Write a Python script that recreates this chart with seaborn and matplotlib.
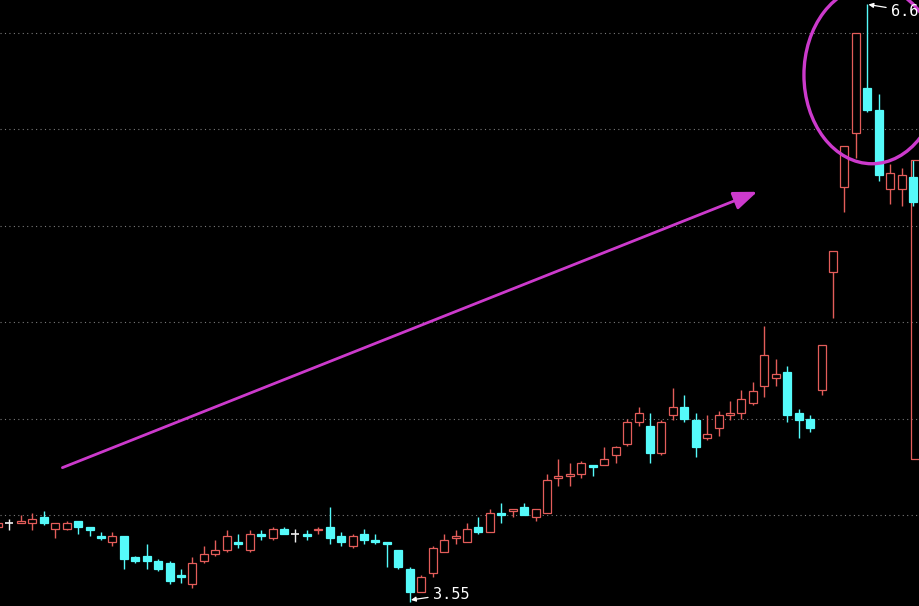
import numpy as np
import seaborn as sns
import matplotlib
matplotlib.use("Agg")
import matplotlib.pyplot as plt
from matplotlib.patches import Ellipse, Rectangle

# daily OHLC (price units)
opens = [3.94, 3.96, 3.96, 3.96, 3.99, 3.93, 3.93, 3.97, 3.94, 3.89,
         3.86, 3.89, 3.78, 3.79, 3.76, 3.75, 3.69, 3.64, 3.76, 3.80,
         3.82, 3.86, 3.82, 3.90, 3.88, 3.93, 3.90, 3.90, 3.92, 3.94,
         3.89, 3.84, 3.90, 3.87, 3.86, 3.82, 3.72, 3.60, 3.70, 3.81,
         3.88, 3.86, 3.94, 3.91, 4.01, 4.02, 4.04, 3.99, 4.01, 4.19,
         4.20, 4.21, 4.26, 4.26, 4.31, 4.37, 4.48, 4.46, 4.32, 4.52,
         4.56, 4.49, 4.40, 4.45, 4.52, 4.53, 4.58, 4.67, 4.71, 4.74,
         4.53, 4.50, 4.65, 5.26, 5.70, 5.98, 6.21, 6.10, 5.69, 5.69,
         5.75]
highs = [3.97, 3.98, 4.00, 4.01, 4.02, 3.96, 3.97, 3.97, 3.94, 3.91,
         3.91, 3.89, 3.79, 3.85, 3.77, 3.76, 3.72, 3.78, 3.84, 3.87,
         3.92, 3.90, 3.92, 3.92, 3.94, 3.94, 3.93, 3.92, 3.94, 4.04,
         3.91, 3.90, 3.93, 3.90, 3.86, 3.82, 3.73, 3.69, 3.84, 3.90,
         3.92, 3.96, 3.99, 4.03, 4.06, 4.03, 4.06, 4.03, 4.21, 4.29,
         4.27, 4.28, 4.26, 4.35, 4.36, 4.50, 4.56, 4.53, 4.49, 4.66,
         4.62, 4.53, 4.52, 4.54, 4.59, 4.65, 4.69, 4.98, 4.81, 4.77,
         4.55, 4.52, 4.88, 5.37, 5.91, 6.50, 6.65, 6.18, 5.82, 5.80,
         5.84]
lows = [3.92, 3.92, 3.96, 3.92, 3.95, 3.88, 3.92, 3.90, 3.89, 3.87,
        3.84, 3.72, 3.75, 3.72, 3.71, 3.64, 3.65, 3.62, 3.75, 3.79,
        3.81, 3.83, 3.81, 3.87, 3.87, 3.90, 3.86, 3.87, 3.90, 3.85,
        3.84, 3.83, 3.85, 3.85, 3.73, 3.72, 3.55, 3.60, 3.68, 3.81,
        3.85, 3.86, 3.90, 3.91, 3.96, 3.99, 4.00, 3.97, 4.01, 4.15,
        4.15, 4.19, 4.20, 4.26, 4.27, 4.36, 4.46, 4.27, 4.31, 4.49,
        4.48, 4.30, 4.39, 4.41, 4.49, 4.50, 4.57, 4.61, 4.67, 4.48,
        4.40, 4.43, 4.62, 5.02, 5.57, 5.85, 6.09, 5.73, 5.61, 5.60,
        5.60]
closes = [3.96, 3.96, 3.97, 3.98, 3.96, 3.96, 3.96, 3.94, 3.92, 3.88,
          3.89, 3.77, 3.76, 3.76, 3.72, 3.66, 3.68, 3.75, 3.80, 3.82,
          3.89, 3.85, 3.90, 3.89, 3.93, 3.90, 3.90, 3.89, 3.93, 3.88,
          3.86, 3.89, 3.87, 3.86, 3.85, 3.73, 3.60, 3.68, 3.83, 3.87,
          3.89, 3.93, 3.91, 4.01, 4.00, 4.03, 4.00, 4.03, 4.18, 4.20,
          4.21, 4.27, 4.25, 4.29, 4.35, 4.48, 4.53, 4.32, 4.48, 4.56,
          4.50, 4.35, 4.42, 4.52, 4.53, 4.60, 4.64, 4.83, 4.73, 4.52,
          4.49, 4.45, 4.88, 5.37, 5.91, 6.50, 6.10, 5.76, 5.77, 5.76,
          5.62]

# hollow red box cut off at the right edge
edge_box = [4.29, 5.84]
grid_levels = [4.0, 4.5, 5.0, 5.5, 6.0, 6.5]
low_label = "3.55"
high_label = "6.65"

UP = "#e35d5a"
DOWN = "#55fafa"
FLAT = "#f0f0f0"
MAGENTA = "#cc3acc"

sns.set_theme(style="dark", rc={"axes.facecolor": "black",
                                "figure.facecolor": "black"})
plt.rcParams["font.family"] = ["DejaVu Sans Mono", "DejaVu Sans"]

fig = plt.figure(figsize=(9.19, 6.06), dpi=100)
ax = fig.add_axes([0, 0, 1, 1])
ax.set_facecolor("black")

o = np.array(opens)
h = np.array(highs)
l = np.array(lows)
c = np.array(closes)
xs = np.arange(len(o))
colors = np.where(c > o, UP, np.where(c < o, DOWN, FLAT))
w = 0.7

for lv in grid_levels:
    ax.axhline(lv, color="#7a7a7a", lw=0.8, ls=(0, (1, 3)), zorder=0)

# wicks
ax.vlines(xs, l, h, colors=colors, lw=1.0, zorder=1)

# bodies
lo_b = np.minimum(o, c)
hi_b = np.maximum(o, c)
for x, b0, b1, col, up in zip(xs, lo_b, hi_b, colors, c > o):
    if b1 - b0 < 1e-9:
        ax.hlines(b0, x - w / 2, x + w / 2, colors=col, lw=1.2, zorder=2)
    elif up:
        ax.bar(x, b1 - b0, bottom=b0, width=w, facecolor="black",
               edgecolor=col, linewidth=0.9, zorder=2)
    else:
        ax.bar(x, b1 - b0, bottom=b0, width=w, facecolor=col,
               edgecolor=col, linewidth=0.9, zorder=2)

ax.add_patch(Rectangle((xs[-1] - 0.18, edge_box[0]), 2.0,
                       edge_box[1] - edge_box[0], facecolor="none",
                       edgecolor=UP, lw=0.9, zorder=1.5))

# trend arrow and highlight ellipse
ax.annotate("", xy=(66.6, 5.68), xytext=(5.4, 4.24),
            arrowprops=dict(arrowstyle="-|>,head_length=0.9,head_width=0.35",
                            color=MAGENTA, lw=2.0, mutation_scale=16),
            zorder=3)
ax.add_patch(Ellipse((76.41, 6.28), 11.9, 0.92, facecolor="none",
                     edgecolor=MAGENTA, lw=2.4, zorder=3))

# min / max labels
i_lo = int(np.argmin(l))
i_hi = int(np.argmax(h))
ax.annotate(low_label, xy=(xs[i_lo] + 0.1, l[i_lo] + 0.01),
            xytext=(xs[i_lo] + 2.0, l[i_lo] + 0.04),
            color="white", fontsize=11, va="center", ha="left",
            arrowprops=dict(arrowstyle="-|>", color="white", lw=0.9,
                            mutation_scale=7, shrinkA=1, shrinkB=0))
ax.annotate(high_label, xy=(xs[i_hi] + 0.1, h[i_hi] - 0.005),
            xytext=(xs[i_hi] + 2.05, h[i_hi] - 0.04),
            color="white", fontsize=11, va="center", ha="left",
            arrowprops=dict(arrowstyle="-|>", color="white", lw=0.9,
                            mutation_scale=7, shrinkA=1, shrinkB=0))

ax.set_xlim(0.17, 80.52)
ax.set_ylim(3.5285, 6.6684)
ax.set_xticks([])
ax.set_yticks([])
for s in ax.spines.values():
    s.set_visible(False)

fig.savefig("out.png", dpi=100, facecolor="black")
